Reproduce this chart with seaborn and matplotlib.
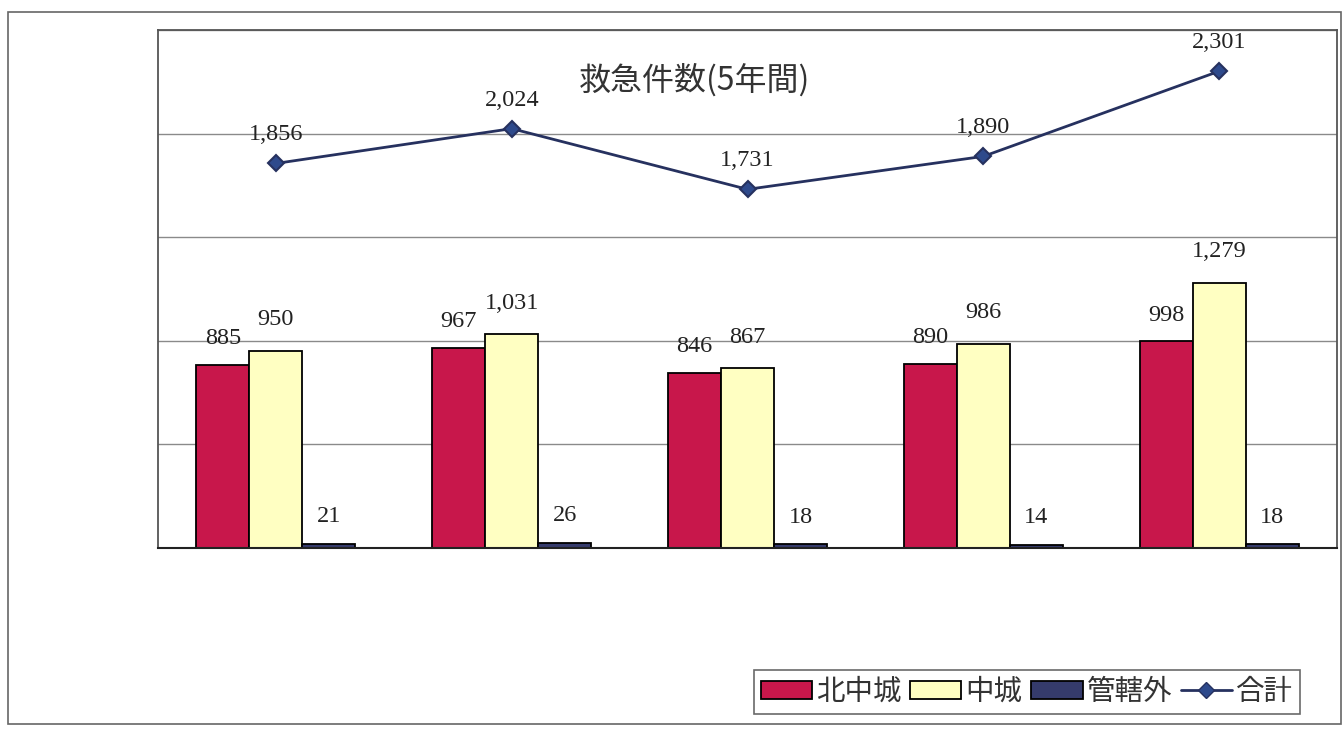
import numpy as np
import pandas as pd
import matplotlib.pyplot as plt
from matplotlib.patches import Patch, Rectangle
from matplotlib.lines import Line2D
import seaborn as sns

# data (5 years, category labels not printed)
years = ['1', '2', '3', '4', '5']
series = ['北中城', '中城', '管轄外']
kitanakagusuku = [885, 967, 846, 890, 998]
nakagusuku = [950, 1031, 867, 986, 1279]
kankatsugai = [21, 26, 18, 14, 18]
total = [1856, 2024, 1731, 1890, 2301]

colors = ['#C8174B', '#FFFFC2', '#353B6C']
navy = '#26315F'

sns.set_style('white')
plt.rcParams['font.family'] = ['Noto Sans CJK JP', 'DejaVu Sans']

df = pd.DataFrame({
    'year': years * 3,
    'series': np.repeat(series, len(years)),
    'count': kitanakagusuku + nakagusuku + kankatsugai,
})

fig = plt.figure(figsize=(13.44, 7.34), dpi=100)
ax = fig.add_axes([158/1344, 1-548/734, (1337-158)/1344, (548-30)/734])

sns.barplot(data=df, x='year', y='count', hue='series', hue_order=series,
            order=years, palette=colors, saturation=1, width=0.675,
            edgecolor='black', linewidth=1.3, legend=False, ax=ax, zorder=2)

# data labels on bars
pads = [11, 15, 12]
for cont, pad in zip(ax.containers, pads):
    ax.bar_label(cont, fmt='{:,.0f}', padding=pad, fontsize=17.5,
                 family='Liberation Serif', color='#222222')

# total line
sns.pointplot(x=years, y=total, order=years, color=navy, markers='D',
              markersize=8, linewidth=2, errorbar=None, ax=ax, zorder=4)
ax.lines[-1].set_markerfacecolor('#2E4A8C')
ax.lines[-1].set_markeredgecolor(navy)
for i, v in enumerate(total):
    ax.annotate(f'{v:,}', (i, v), xytext=(0, 13), textcoords='offset points',
                ha='center', va='bottom', fontsize=17.5,
                family='Liberation Serif', color='#222222')

ax.set_xlim(-0.5, 4.5)
ax.set_ylim(0, 2500)
ax.set_yticks(range(0, 2501, 500))
ax.set_yticklabels([])
ax.set_xticklabels([])
ax.tick_params(length=0)
ax.set_xlabel('')
ax.set_ylabel('')
ax.grid(axis='y', color='#8a8a8a', linewidth=1)
ax.set_axisbelow(True)
for s in ['left', 'top', 'right']:
    ax.spines[s].set_color('#555555')
    ax.spines[s].set_linewidth(1.3)
ax.spines['bottom'].set_color('#222222')
ax.spines['bottom'].set_linewidth(1.5)

ax.text(0.455, 0.903, '救急件数(5年間)', transform=ax.transAxes,
        ha='center', va='center', fontsize=23, color='#333333')

handles = [Patch(facecolor=c, edgecolor='black', linewidth=1.3) for c in colors]
handles.append(Line2D([0], [0], color=navy, lw=2, marker='D', markersize=8,
                      markerfacecolor='#2E4A8C', markeredgecolor=navy))
leg = fig.legend(handles, series + ['合計'], loc='center',
                 bbox_to_anchor=(1027/1344, 1-692/734), ncol=4,
                 fontsize=20.5, frameon=True, fancybox=False, edgecolor='#444444',
                 handlelength=1.8, handleheight=0.6, handletextpad=0.15,
                 columnspacing=0.3, borderpad=0.25)
leg.get_frame().set_linewidth(1.2)
for t in leg.get_texts():
    t.set_color('#333333')

# outer chart border
fig.add_artist(Rectangle((8/1344, 1-724/734), (1341-8)/1344, (724-12)/734,
                         transform=fig.transFigure, fill=False,
                         edgecolor='#666666', linewidth=1.2))

fig.savefig('out.png', dpi=100)
